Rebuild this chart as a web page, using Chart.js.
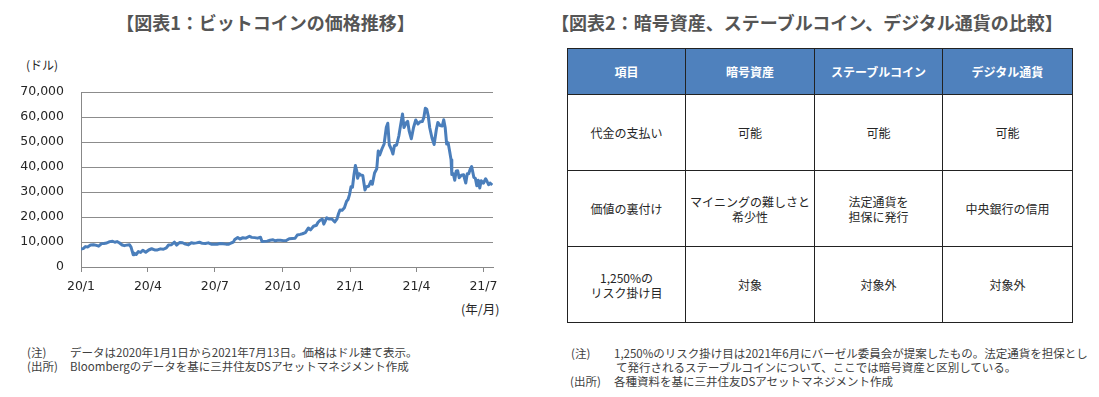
<!DOCTYPE html>
<html lang="ja">
<head>
<meta charset="utf-8">
<script src="https://cdn.jsdelivr.net/npm/chart.js@4"></script>
<style>
  html, body { margin: 0; padding: 0; background: #fff; }
  body { width: 1099px; height: 397px; position: relative; overflow: hidden;
         font-family: "Noto Sans CJK JP", "Noto Sans", sans-serif; color: #333; }
  .abs { position: absolute; white-space: nowrap; }
  .title { font-size: 18px; font-weight: bold; color: #555; line-height: 24px; text-align: center; }
  .note { font-size: 11.5px; line-height: 14px; color: #404040; }
  #chartBox { position: absolute; left: 0; top: 0; width: 540px; height: 330px; }
  table { position: absolute; left: 567px; top: 48px; width: 505px; border-collapse: collapse;
          table-layout: fixed; font-size: 12px; line-height: 15px; color: #262626; }
  td, th { border: 1.5px solid #222; text-align: center; vertical-align: middle; padding: 0; }
  th { background: #4f81bd; color: #fff; font-weight: bold; height: 45px; }
  td { height: 75px; }
</style>
</head>
<body>
<div class="abs title" style="left:0;top:10px;width:531px;">【図表1：ビットコインの価格推移】</div>
<div class="abs title" style="left:540px;top:10px;width:534px;">【図表2：暗号資産、ステーブルコイン、デジタル通貨の比較】</div>

<div class="abs" style="left:26px;top:57px;font-size:12px;line-height:16px;color:#262626;">(ドル)</div>
<div class="abs" style="left:461px;top:301px;font-size:12.5px;line-height:16px;color:#262626;">(年/月)</div>

<div id="chartBox"><canvas id="priceChart"></canvas></div>

<div class="abs note" style="left:27px;top:345px;">(注)</div>
<div class="abs note" style="left:70px;top:345px;">データは2020年1月1日から2021年7月13日。価格はドル建て表示。</div>
<div class="abs note" style="left:27px;top:359px;">(出所)</div>
<div class="abs note" style="left:70px;top:359px;">Bloombergのデータを基に三井住友DSアセットマネジメント作成</div>

<table>
  <colgroup><col style="width:118px"><col style="width:129px"><col style="width:128px"><col style="width:130px"></colgroup>
  <tr><th>項目</th><th>暗号資産</th><th>ステーブルコイン</th><th>デジタル通貨</th></tr>
  <tr><td>代金の支払い</td><td>可能</td><td>可能</td><td>可能</td></tr>
  <tr><td>価値の裏付け</td><td>マイニングの難しさと<br>希少性</td><td>法定通貨を<br>担保に発行</td><td>中央銀行の信用</td></tr>
  <tr><td>1,250%の<br>リスク掛け目</td><td>対象</td><td>対象外</td><td>対象外</td></tr>
</table>

<div class="abs note" style="left:571px;top:346px;">(注)</div>
<div class="abs note" style="left:614px;top:346px;">1,250%のリスク掛け目は2021年6月にバーゼル委員会が提案したもの。法定通貨を担保とし</div>
<div class="abs note" style="left:616px;top:360px;">て発行されるステーブルコインについて、ここでは暗号資産と区別している。</div>
<div class="abs note" style="left:570px;top:374px;">(出所)</div>
<div class="abs note" style="left:614px;top:374px;">各種資料を基に三井住友DSアセットマネジメント作成</div>

<script>
// bitcoin price (USD)
const dates = [
  "2020-01-01","2020-01-04","2020-01-07","2020-01-10","2020-01-14","2020-01-18","2020-01-22","2020-01-25","2020-01-29",
  "2020-02-01","2020-02-05","2020-02-09","2020-02-13","2020-02-16","2020-02-19","2020-02-22","2020-02-26","2020-02-29",
  "2020-03-03","2020-03-07","2020-03-09","2020-03-12","2020-03-13","2020-03-16","2020-03-19","2020-03-22","2020-03-25","2020-03-29",
  "2020-04-02","2020-04-06","2020-04-10","2020-04-14","2020-04-18","2020-04-22","2020-04-26","2020-04-29",
  "2020-05-03","2020-05-07","2020-05-10","2020-05-14","2020-05-18","2020-05-22","2020-05-26","2020-05-30",
  "2020-06-02","2020-06-06","2020-06-10","2020-06-14","2020-06-18","2020-06-22","2020-06-26","2020-06-30",
  "2020-07-04","2020-07-08","2020-07-12","2020-07-16","2020-07-20","2020-07-23","2020-07-26","2020-07-28",
  "2020-08-01","2020-08-04","2020-08-08","2020-08-12","2020-08-17","2020-08-20","2020-08-24","2020-08-28",
  "2020-09-01","2020-09-03","2020-09-06","2020-09-10","2020-09-14","2020-09-18","2020-09-21","2020-09-24","2020-09-28",
  "2020-10-02","2020-10-06","2020-10-10","2020-10-14","2020-10-18","2020-10-21","2020-10-25","2020-10-28",
  "2020-11-01","2020-11-05","2020-11-08","2020-11-12","2020-11-16","2020-11-18","2020-11-21","2020-11-24","2020-11-26","2020-11-30",
  "2020-12-03","2020-12-07","2020-12-11","2020-12-14","2020-12-16","2020-12-18","2020-12-21","2020-12-24","2020-12-27","2020-12-29","2020-12-31",
  "2021-01-02","2021-01-04","2021-01-06","2021-01-08","2021-01-10","2021-01-11","2021-01-13","2021-01-15","2021-01-18","2021-01-21",
  "2021-01-23","2021-01-26","2021-01-29","2021-01-31",
  "2021-02-03","2021-02-06","2021-02-08","2021-02-10","2021-02-13","2021-02-16","2021-02-19","2021-02-21","2021-02-23","2021-02-26","2021-02-28",
  "2021-03-02","2021-03-05","2021-03-08","2021-03-10","2021-03-13","2021-03-15","2021-03-18","2021-03-20","2021-03-22","2021-03-25","2021-03-28","2021-03-31",
  "2021-04-03","2021-04-06","2021-04-09","2021-04-11","2021-04-13","2021-04-15","2021-04-17","2021-04-19","2021-04-22","2021-04-25","2021-04-28","2021-04-30",
  "2021-05-03","2021-05-06","2021-05-08","2021-05-10","2021-05-12","2021-05-14","2021-05-16","2021-05-18","2021-05-19","2021-05-21","2021-05-23","2021-05-25","2021-05-27","2021-05-29",
  "2021-06-01","2021-06-04","2021-06-07","2021-06-09","2021-06-11","2021-06-13","2021-06-15","2021-06-18","2021-06-20","2021-06-22","2021-06-24","2021-06-26","2021-06-28",
  "2021-07-01","2021-07-04","2021-07-06","2021-07-08","2021-07-10","2021-07-13"
];
const prices = [
  7200,7350,8150,8000,8800,8900,8650,8350,9350,
  9400,9600,10150,10300,9900,10150,9700,8800,8550,
  8750,8900,7950,4900,5550,5000,6200,5800,6700,5900,
  6800,7300,6850,6850,7250,7100,7650,8800,
  8900,9950,8750,9800,9700,9150,8850,9700,
  9500,9650,9900,9450,9400,9650,9150,9150,
  9100,9400,9300,9150,9150,9600,9950,11000,
  11800,11200,11700,11550,12300,11850,11750,11550,
  11900,10200,10250,10350,10700,10900,10450,10700,10700,
  10550,10600,11300,11400,11500,12800,13050,13300,
  13750,15600,14850,16300,16700,17800,18700,19150,17150,19700,
  19200,19200,18050,19250,21300,22800,22700,23700,26300,27000,28950,
  32100,31900,36800,40600,38200,35500,37300,36800,36600,30800,
  32100,32300,34300,33100,
  37600,39300,46400,44800,47200,49200,55900,57500,48900,47000,45200,
  48500,48800,52400,56000,61200,55800,57700,58300,54500,51300,55800,58800,
  57200,58100,58200,59800,63500,63100,60400,55700,51700,49000,55000,57800,
  56600,56400,58900,55800,49200,49700,46400,42900,37000,37300,34700,38400,38500,35700,
  36700,36900,33600,37300,37300,39100,40200,35800,35500,32500,34700,31600,34500,
  33500,35300,34200,32900,33600,32800
];
const xTickDates = ["2020-01-01","2020-04-01","2020-07-01","2020-10-01","2021-01-01","2021-04-01","2021-07-01"];
const xTickLabels = ["20/1","20/4","20/7","20/10","21/1","21/4","21/7"];
const yTicks = [0,10000,20000,30000,40000,50000,60000,70000];

const startDay = Date.UTC(2020, 0, 1);
const dayOf = (s) => Math.round((Date.parse(s + "T00:00:00Z") - startDay) / 86400000);

const points = dates.map((d, i) => ({ x: dayOf(d), y: prices[i] }));
const tickFont = { family: "'DejaVu Sans', Verdana, sans-serif", size: 12.5 };

const ctx = document.getElementById("priceChart").getContext("2d");
new Chart(ctx, {
  type: "line",
  data: {
    datasets: [
      {
        label: "ビットコイン",
        data: points,
        borderColor: "#4a7ebb",
        borderWidth: 3,
        pointRadius: 0,
        tension: 0,
        borderJoinStyle: "round",
        fill: false,
      },
    ],
  },
  options: {
    responsive: true,
    maintainAspectRatio: false,
    animation: false,
    layout: { padding: { top: 92, right: 47, bottom: 33, left: 0 } },
    plugins: { legend: { display: false }, tooltip: { enabled: false } },
    scales: {
      x: {
        type: "linear",
        min: 0,
        max: 560,
        afterBuildTicks: (scale) => {
          scale.ticks = xTickDates.map((d) => ({ value: dayOf(d) }));
        },
        afterFit: (scale) => { scale.height = 30; },
        ticks: {
          autoSkip: false,
          maxRotation: 0,
          padding: 7,
          color: "#262626",
          font: tickFont,
          callback: (v, i) => xTickLabels[i],
        },
        grid: { drawOnChartArea: false, drawTicks: true, tickLength: 5, color: "#888" },
        border: { color: "#888", width: 1 },
      },
      y: {
        min: 0,
        max: 70000,
        afterBuildTicks: (scale) => {
          scale.ticks = yTicks.map((v) => ({ value: v }));
        },
        afterFit: (scale) => { scale.width = 81; },
        ticks: {
          padding: 17,
          color: "#262626",
          font: tickFont,
          callback: (v) => v.toLocaleString("en-US"),
        },
        grid: { drawTicks: false, color: "#8c8c8c", lineWidth: 1 },
        border: { color: "#888", width: 1 },
      },
    },
  },
});
</script>
</body>
</html>
